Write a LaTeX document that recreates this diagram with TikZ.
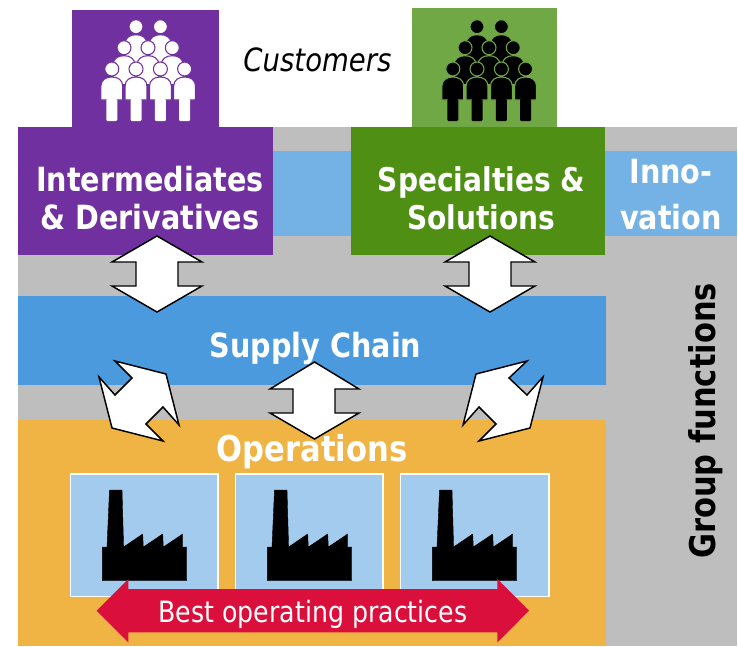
\documentclass[tikz,border=0pt]{standalone}
\usepackage{fontspec}
\setmainfont{DejaVu Sans}[FakeStretch=0.86]
\definecolor{cpurple}{HTML}{7030A0}
\definecolor{cdgreen}{HTML}{4F9014}
\definecolor{clgreen}{HTML}{70A845}
\definecolor{cgrey}{HTML}{BEBEBE}
\definecolor{clblue}{HTML}{74B1E4}
\definecolor{cblue}{HTML}{4A9ADD}
\definecolor{corange}{HTML}{F0B444}
\definecolor{cpale}{HTML}{A3CBED}
\definecolor{cred}{HTML}{DB0F3B}
\tikzset{
  dblarrow/.style={draw=black,fill=white,line width=1.1pt,line join=miter,miter limit=10},
  headline/.style={text=white,font=\bfseries\fontsize{25}{28.5}\selectfont,align=center,inner sep=0pt},
  plantbox/.style={draw=white,fill=cpale,line width=1.1pt},
  plant/.style={fill=black,draw=black,line width=.3pt,line join=round},
}
% person: #1 x of centre, #2 y of head centre, #3 fill, #4 outline, #5 bottom of trunk
\newcommand{\person}[5]{%
  \path[fill=#3,draw=#4,line width=.8pt] (#1-10.9,#2+#5) -- (#1-10.9,#2+17)
    .. controls (#1-10.9,#2+11) and (#1-6,#2+8) .. (#1,#2+8)
    .. controls (#1+6,#2+8) and (#1+10.9,#2+11) .. (#1+10.9,#2+17) -- (#1+10.9,#2+#5) -- cycle;
  \path[fill=#3,draw=#4,line width=.8pt] (#1,#2) circle[radius=7];
}
\newcommand{\frontperson}[4]{%
  \person{#1}{#2}{#3}{#4}{31}
  \path[fill=#3,rounded corners=.8pt] (#1-5.5,#2+30) rectangle (#1+5.5,#2+52);
}
\newcommand{\crowd}[3]{%
  \begin{scope}[xshift=#1*0.75pt]
    \person{136}{26.7}{#2}{#3}{38}
    \person{160.4}{26.7}{#2}{#3}{38}
    \person{124}{47.7}{#2}{#3}{37}
    \person{148}{47.7}{#2}{#3}{37}
    \person{172.3}{47.7}{#2}{#3}{37}
    \frontperson{111.8}{69}{#2}{#3}
    \frontperson{136}{69}{#2}{#3}
    \frontperson{160.4}{69}{#2}{#3}
    \frontperson{184.6}{69}{#2}{#3}
  \end{scope}}
\newcommand{\factory}[1]{%
  \path[plant,xshift=#1*0.75pt] (102.3,580.7) -- (102.3,547) -- (107,547) -- (109.5,490) -- (122,490)
    -- (123.6,547) -- (142.7,534) -- (143.3,547) -- (162.7,534) -- (163.3,547) -- (182.7,534)
    -- (182.7,547) -- (186.7,547) -- (186.7,580.7) -- cycle;}
\begin{document}
\begin{tikzpicture}[x=0.75pt,y=-0.75pt]
\useasboundingbox (0,0) rectangle (738,646);
% background bands
\fill[cgrey] (18,127) rectangle (737,645.5);
\fill[clblue] (273,151) rectangle (737,236);
\fill[cpurple] (72,10) rectangle (219,128);
\fill[clgreen] (412,8) rectangle (557,128);
\fill[cpurple] (18,127) rectangle (273,255);
\fill[cdgreen] (351,127) rectangle (605,255);
\fill[cblue] (18,296) rectangle (606,385);
\fill[corange] (18,420) rectangle (605.5,645.5);
% people
\crowd{0}{white}{cpurple}
\crowd{341}{black}{clgreen}
% plant boxes
\path[plantbox] (70.7,474) rectangle (218,596.7);
\path[plantbox] (235.7,474) rectangle (383,596.7);
\path[plantbox] (400.7,474) rectangle (549,596.7);
\factory{0}\factory{165}\factory{330}
% block arrows
\path[dblarrow] (157,236) -- (202,262) -- (178,262) -- (178,286) -- (202,286) -- (157,312) -- (112,286) -- (136,286) -- (136,262) -- (112,262) -- cycle;
\path[dblarrow] (490,236) -- (535,262) -- (511,262) -- (511,286) -- (535,286) -- (490,312) -- (445,286) -- (469,286) -- (469,262) -- (445,262) -- cycle;
\path[dblarrow] (314.5,362) -- (359,389) -- (335,389) -- (335,413) -- (359,413) -- (314.5,439) -- (270,413) -- (293,413) -- (293,389) -- (270,389) -- cycle;
\path[dblarrow] (115,361) -- (166,374) -- (179,425) -- (163,407) -- (146,424) -- (163,441) -- (112,428) -- (99,377) -- (115,395) -- (132,378) -- cycle;
\path[dblarrow] (527,361) -- (476,374) -- (463,425) -- (479,407) -- (496,424) -- (479,441) -- (530,428) -- (543,377) -- (527,395) -- (509,378) -- cycle;
\fill[cred] (96.7,610.7) -- (128.3,579) -- (128.3,589) -- (497.3,589) -- (497.3,579) -- (529,610.7) -- (497.3,642.5) -- (497.3,632.3) -- (128.3,632.3) -- (128.3,642.5) -- cycle;
% labels
\node[headline] (inter) at (150,198) {Intermediates\\\& Derivatives};
\node[headline,font=\bfseries\fontsize{24.5}{28.5}\selectfont] (spec) at (481.5,198) {Specialties \&\\Solutions};
\node[headline,font=\bfseries\fontsize{25}{34.5}\selectfont] (inno) at (671,195) {Inno-\\vation};
\node[headline] (supply) at (315.5,348) {Supply Chain};
\node[headline,font=\bfseries\fontsize{26.7}{30}\selectfont] (ops) at (312,452) {Operations};
\node[inner sep=0pt,font=\bfseries\fontsize{26.6}{30}\selectfont,rotate=90,text=black] (group) at (706,421) {Group functions};
\node[inner sep=0pt,font=\itshape\fontsize{24}{28}\selectfont] (cust) at (317.5,60) {Customers};
\node[inner sep=0pt,text=white,font=\fontsize{22}{24}\selectfont] (best) at (313,614) {Best operating practices};
\end{tikzpicture}
\end{document}
